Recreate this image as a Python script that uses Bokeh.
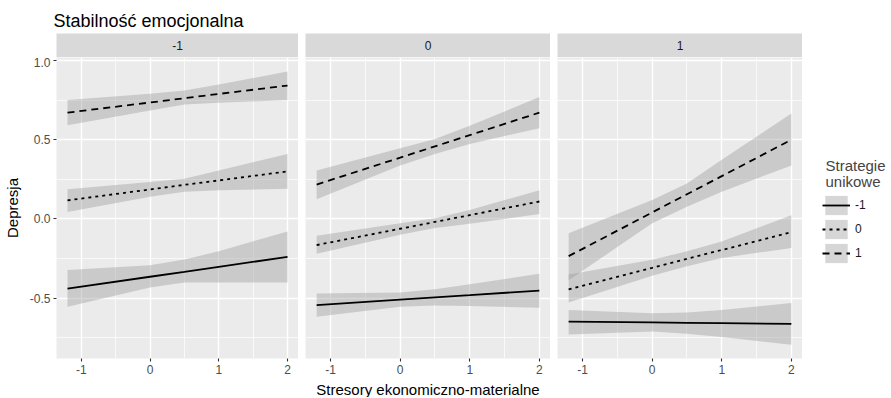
from bokeh.plotting import figure
from bokeh.layouts import row, column
from bokeh.models import (Range1d, FixedTicker, PrintfTickFormatter, Label,
                          Legend, LegendItem, ColumnDataSource)
from bokeh.embed import file_html
from bokeh.resources import INLINE

# ---------------- data ----------------
title_text = "Stabilność emocjonalna"
x_label = "Stresory ekonomiczno-materialne"
y_label = "Depresja"
legend_title = ["Strategie", "unikowe"]
facet_labels = ["-1", "0", "1"]
strategy_labels = ["-1", "0", "1"]
x_ticks = [-1, 0, 1, 2]
x_minor_ticks = [-0.5, 0.5, 1.5]
y_ticks = [-0.5, 0.0, 0.5, 1.0]
y_minor_ticks = [-0.75, -0.25, 0.25, 0.75]
x_values = [-1.2, 0.0, 0.5, 1.0, 2.0]

# facet "-1"  (rows: strategy -1, 0, 1)
fit_f1 = [[-0.44, -0.365, -0.334, -0.302, -0.24],
          [0.117, 0.186, 0.215, 0.243, 0.30],
          [0.671, 0.735, 0.762, 0.789, 0.842]]
lo_f1 = [[-0.554, -0.433, -0.402, -0.402, -0.402],
         [0.044, 0.14, 0.171, 0.181, 0.19],
         [0.592, 0.685, 0.723, 0.733, 0.75]]
hi_f1 = [[-0.323, -0.292, -0.256, -0.204, -0.079],
         [0.1875, 0.233, 0.254, 0.306, 0.41],
         [0.75, 0.79, 0.81, 0.848, 0.93]]
# facet "0"
fit_f2 = [[-0.544, -0.51, -0.495, -0.481, -0.452],
          [-0.165, -0.062, -0.019, 0.024, 0.11],
          [0.217, 0.387, 0.458, 0.529, 0.671]]
lo_f2 = [[-0.617, -0.554, -0.546, -0.55, -0.56],
         [-0.219, -0.1, -0.058, -0.031, 0.031],
         [0.125, 0.3375, 0.41, 0.473, 0.573]]
hi_f2 = [[-0.471, -0.465, -0.444, -0.4125, -0.346],
         [-0.106, -0.027, 0.004, 0.056, 0.181],
         [0.306, 0.446, 0.504, 0.5875, 0.769]]
# facet "1"
fit_f3 = [[-0.648, -0.653, -0.6555, -0.658, -0.6625],
          [-0.444, -0.309, -0.252, -0.196, -0.083],
          [-0.235, 0.041, 0.156, 0.270, 0.50]]
lo_f3 = [[-0.729, -0.71, -0.725, -0.746, -0.794],
         [-0.527, -0.358, -0.298, -0.246, -0.183],
         [-0.3875, -0.027, 0.077, 0.171, 0.3375]]
hi_f3 = [[-0.575, -0.596, -0.59, -0.575, -0.531],
         [-0.35, -0.258, -0.204, -0.142, 0.023],
         [-0.09, 0.119, 0.223, 0.373, 0.665]]

facets = [(fit_f1, lo_f1, hi_f1), (fit_f2, lo_f2, hi_f2), (fit_f3, lo_f3, hi_f3)]

# ---------------- style ----------------
FONT = "Liberation Sans"
FW, FH = 245, 301
BOTTOM = 20
PANEL_H = FH + BOTTOM
STRIP_H = 24
TITLE_H = 33
XLAB_H = 19
LEFT0 = 53
GAP = 7
LEG_W = 88
TOTAL_W = LEFT0 + FW + 2 * (GAP + FW) + LEG_W
X_RANGE = (-1.36, 2.16)
Y_RANGE = (-0.881, 1.019)
DASHES = ["solid", "3 4", "7 5"]
RIBBON_COLOR = "#999999"
RIBBON_ALPHA = 0.4
LINE_W = 1.8

FIXED = dict(width_policy="fixed", height_policy="fixed", output_backend="svg",
             toolbar_location=None, tools="", min_border=0, min_border_right=0,
             min_border_top=0, border_fill_color="white", outline_line_color=None)


def blank_fig(w, h, left=0, xr=(0, 1)):
    f = figure(width=w, height=h, x_range=Range1d(*xr), y_range=Range1d(0, 1),
               x_axis_location=None, y_axis_location=None, min_border_left=left,
               min_border_bottom=0, background_fill_color="white", **FIXED)
    f.xgrid.visible = False
    f.ygrid.visible = False
    return f


# title
title_fig = blank_fig(TOTAL_W, TITLE_H)
title_fig.add_layout(Label(x=LEFT0, y=13, x_units="screen", y_units="screen", text=title_text,
                           text_font=FONT, text_font_size="18px", text_color="black",
                           text_baseline="alphabetic"))

cols = []
band_sources, line_sources = [], []
for i, (fit, lo, hi) in enumerate(facets):
    left = LEFT0 if i == 0 else GAP
    strip = blank_fig(left + FW, STRIP_H, left)
    strip.background_fill_color = "#d9d9d9"
    strip.add_layout(Label(x=0.5, y=0.5, text=facet_labels[i], text_align="center",
                           text_baseline="middle", text_font=FONT, text_font_size="12px",
                           text_color="#1a1a1a"))

    p = figure(width=left + FW, height=PANEL_H, x_range=Range1d(*X_RANGE),
               y_range=Range1d(*Y_RANGE), min_border_left=left, min_border_bottom=BOTTOM,
               y_axis_location="left" if i == 0 else None,
               background_fill_color="#ebebeb", **FIXED)
    band_sources, line_sources = [], []
    for k in range(3):
        src = ColumnDataSource(dict(x=x_values, lo=lo[k], hi=hi[k]))
        band_sources.append(src)
        p.varea(x="x", y1="lo", y2="hi", source=src, fill_color=RIBBON_COLOR,
                fill_alpha=RIBBON_ALPHA)
    for k in range(3):
        src = ColumnDataSource(dict(x=x_values, y=fit[k]))
        line_sources.append(src)
        p.line(x="x", y="y", source=src, line_color="black", line_width=LINE_W,
               line_dash=DASHES[k])

    xt = FixedTicker(ticks=x_ticks, minor_ticks=x_minor_ticks)
    yt = FixedTicker(ticks=y_ticks, minor_ticks=y_minor_ticks)
    p.xgrid.ticker = xt
    p.ygrid.ticker = yt
    for g in (p.xgrid[0], p.ygrid[0]):
        g.grid_line_color = "white"
        g.grid_line_width = 1.4
        g.minor_grid_line_color = "white"
        g.minor_grid_line_width = 0.7

    ax = p.xaxis[0]
    ax.ticker = xt
    ax.formatter = PrintfTickFormatter(format="%d")
    axes = [ax]
    if i == 0:
        ay = p.yaxis[0]
        ay.ticker = yt
        ay.formatter = PrintfTickFormatter(format="%.1f")
        ay.axis_label = y_label
        ay.axis_label_standoff = 6
        axes.append(ay)
    for a in axes:
        a.axis_line_color = None
        a.major_tick_line_color = "#333333"
        a.major_tick_line_width = 1.1
        a.major_tick_in = 0
        a.major_tick_out = 3
        a.minor_tick_line_color = None
        a.major_label_standoff = 2
        a.major_label_text_font = FONT
        a.major_label_text_font_size = "12px"
        a.major_label_text_color = "#4d4d4d"
        a.axis_label_text_font = FONT
        a.axis_label_text_font_size = "15px"
        a.axis_label_text_font_style = "normal"
        a.axis_label_text_color = "black"
    cols.append(column(strip, p, spacing=0))

# legend figure: keys reuse the last facet's sources, drawn off-view (x range far away)
LEG_H = STRIP_H + PANEL_H
leg_fig = blank_fig(LEG_W, LEG_H, xr=(100, 101))
items = []
for k in range(3):
    r1 = leg_fig.varea(x="x", y1="lo", y2="hi", source=band_sources[k],
                       fill_color=RIBBON_COLOR, fill_alpha=RIBBON_ALPHA)
    r2 = leg_fig.line(x="x", y="y", source=line_sources[k], line_color="black",
                      line_width=LINE_W, line_dash=DASHES[k])
    items.append(LegendItem(label=strategy_labels[k], renderers=[r1, r2]))
legend = Legend(items=items, location=(20, 113), glyph_width=28, glyph_height=24,
                label_height=24, spacing=0, padding=0, margin=0, label_standoff=5,
                label_text_font=FONT, label_text_font_size="12px", label_text_color="#1a1a1a",
                border_line_color=None, background_fill_alpha=0)
leg_fig.add_layout(legend, "center")
leg_fig.add_layout(Label(x=23, y=213, x_units="screen", y_units="screen", text=legend_title[0],
                         text_font=FONT, text_font_size="15px", text_baseline="alphabetic"))
leg_fig.add_layout(Label(x=23, y=197, x_units="screen", y_units="screen", text=legend_title[1],
                         text_font=FONT, text_font_size="15px", text_baseline="alphabetic"))
cols.append(leg_fig)

# x-axis title, centred under the three panels
xlab_fig = blank_fig(TOTAL_W, XLAB_H)
xlab_fig.add_layout(Label(x=LEFT0 + (3 * FW + 2 * GAP) / 2, y=8.5, x_units="screen",
                          y_units="screen", text=x_label, text_align="center",
                          text_font=FONT, text_font_size="15px", text_color="black",
                          text_baseline="alphabetic"))

layout = column(title_fig, row(*cols, spacing=0), xlab_fig, spacing=0)

open("out.html", "w").write(file_html(layout, INLINE))
